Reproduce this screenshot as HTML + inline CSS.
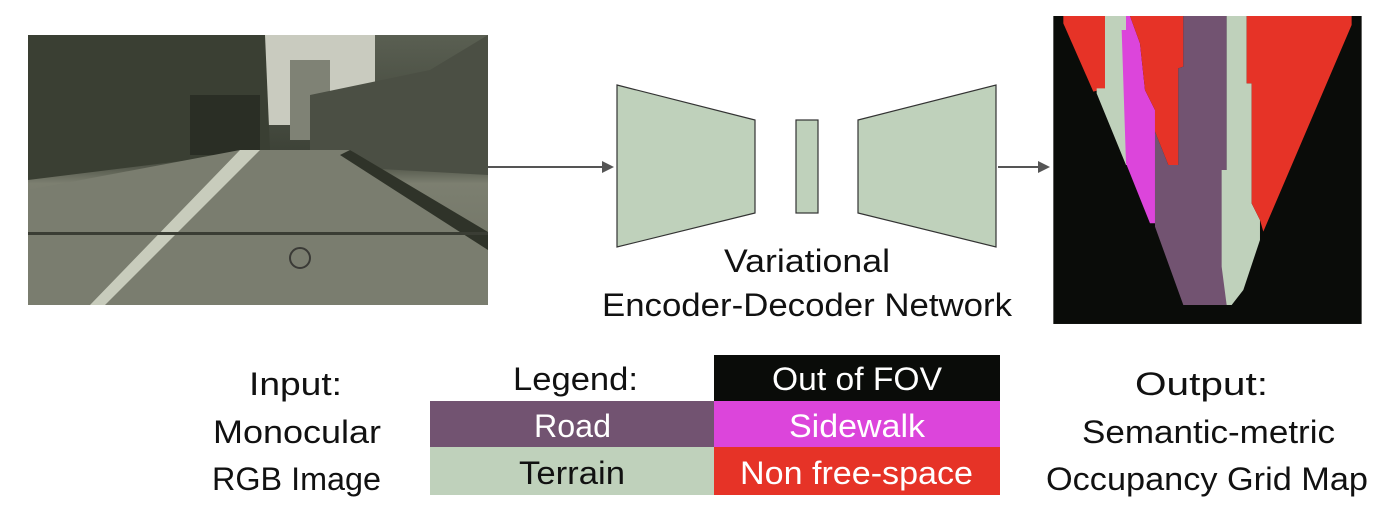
<!DOCTYPE html>
<html><head><meta charset="utf-8"><style>
body{margin:0;background:#fff;width:1400px;height:509px;overflow:hidden}
svg text{font-family:"Liberation Sans",sans-serif;font-size:32px;fill:#111}
</style></head><body>
<svg width="1400" height="509" viewBox="0 0 1400 509">
<defs>
<linearGradient id="sky" x1="0" y1="0" x2="0" y2="1">
<stop offset="0" stop-color="#5a5f52"/><stop offset="0.45" stop-color="#3c4136"/><stop offset="0.55" stop-color="#7c7f70"/><stop offset="1" stop-color="#6d7063"/></linearGradient>
</defs>
<rect x="28" y="35" width="460" height="270" fill="url(#sky)"/>
<rect x="265" y="35" width="110" height="90" fill="#c9cbbf"/>
<rect x="290" y="60" width="40" height="80" fill="#7f8275"/>
<polygon points="310,95 430,70 488,35 488,175 310,165" fill="#4b4f44"/>
<polygon points="28,35 265,35 270,150 28,180" fill="#3a3f33"/>
<rect x="190" y="95" width="70" height="60" fill="#2a2e25"/>
<polygon points="28,190 240,150 350,150 488,240 488,305 28,305" fill="#7a7d6f"/>
<polygon points="240,150 260,150 105,305 90,305" fill="#c8ccbc"/>
<polygon points="350,150 488,232 488,250 340,155" fill="#2f3329"/>
<rect x="28" y="232" width="460" height="3" fill="#3a3d34"/>
<circle cx="300" cy="258" r="10" fill="none" stroke="#3a3a36" stroke-width="2"/>
<line x1="488" y1="167" x2="604" y2="167" stroke="#555" stroke-width="2"/>
<polygon points="614,167 602,161 602,173" fill="#555"/>
<line x1="998" y1="167" x2="1040" y2="167" stroke="#555" stroke-width="2"/>
<polygon points="1050,167 1038,161 1038,173" fill="#555"/>
<polygon points="617,85 755,120 755,213 617,247" fill="#bfd1bb" stroke="#333" stroke-width="1.2"/>
<rect x="796" y="120" width="22" height="93" fill="#bfd1bb" stroke="#333" stroke-width="1.2"/>
<polygon points="858,120 996,85 996,247 858,213" fill="#bfd1bb" stroke="#333" stroke-width="1.2"/>
<text x="724" y="272" textLength="166" lengthAdjust="spacingAndGlyphs">Variational</text>
<text x="602" y="316" textLength="410" lengthAdjust="spacingAndGlyphs">Encoder-Decoder Network</text>
<g transform="translate(1050,10) scale(0.3333)">
<rect x="10" y="18" width="925" height="924" fill="#0a0c09"/>
<polygon points="40,18 165,18 165,235 130,245 40,40" fill="#e63327"/>
<polygon points="165,18 228,18 240,465 228,465 140,250 140,235 165,235" fill="#bfd1bb"/>
<polygon points="228,18 240,18 270,100 285,240 315,300 315,640 300,640 228,460 215,60 228,60" fill="#dc45db"/>
<polygon points="240,18 400,18 400,170 385,175 385,465 355,465 315,365 315,300 285,240 270,100" fill="#e63327"/>
<polygon points="400,18 530,18 530,885 400,885 315,650 315,365 355,465 385,465 385,175 400,170" fill="#725371"/>
<polygon points="530,18 590,18 590,220 605,220 605,580 630,630 630,690 580,840 545,885 530,885 515,770 515,480 530,480" fill="#bfd1bb"/>
<polygon points="590,18 905,18 905,45 640,665 630,630 605,580 605,220 590,220" fill="#e63327"/>
</g>
<text x="249" y="395" textLength="93" lengthAdjust="spacingAndGlyphs">Input:</text>
<text x="213" y="443" textLength="168" lengthAdjust="spacingAndGlyphs">Monocular</text>
<text x="212" y="490" textLength="169" lengthAdjust="spacingAndGlyphs">RGB Image</text>
<text x="1135" y="395" textLength="133" lengthAdjust="spacingAndGlyphs">Output:</text>
<text x="1082" y="443" textLength="253" lengthAdjust="spacingAndGlyphs">Semantic-metric</text>
<text x="1046" y="490" textLength="322" lengthAdjust="spacingAndGlyphs">Occupancy Grid Map</text>
<text x="513" y="390" textLength="125" lengthAdjust="spacingAndGlyphs">Legend:</text>
<rect x="714" y="355" width="286" height="46" fill="#0a0c09"/>
<text x="772" y="390" textLength="170" lengthAdjust="spacingAndGlyphs" style="fill:#fff">Out of FOV</text>
<rect x="430" y="401" width="284" height="46" fill="#725371"/>
<text x="534" y="437" textLength="77" lengthAdjust="spacingAndGlyphs" style="fill:#fff">Road</text>
<rect x="714" y="401" width="286" height="46" fill="#dc45db"/>
<text x="789" y="437" textLength="136" lengthAdjust="spacingAndGlyphs" style="fill:#fff">Sidewalk</text>
<rect x="430" y="447" width="284" height="48" fill="#bfd1bb"/>
<text x="519" y="484" textLength="106" lengthAdjust="spacingAndGlyphs">Terrain</text>
<rect x="714" y="447" width="286" height="48" fill="#e63327"/>
<text x="740" y="484" textLength="233" lengthAdjust="spacingAndGlyphs" style="fill:#fff">Non free-space</text>
</svg>
</body></html>
